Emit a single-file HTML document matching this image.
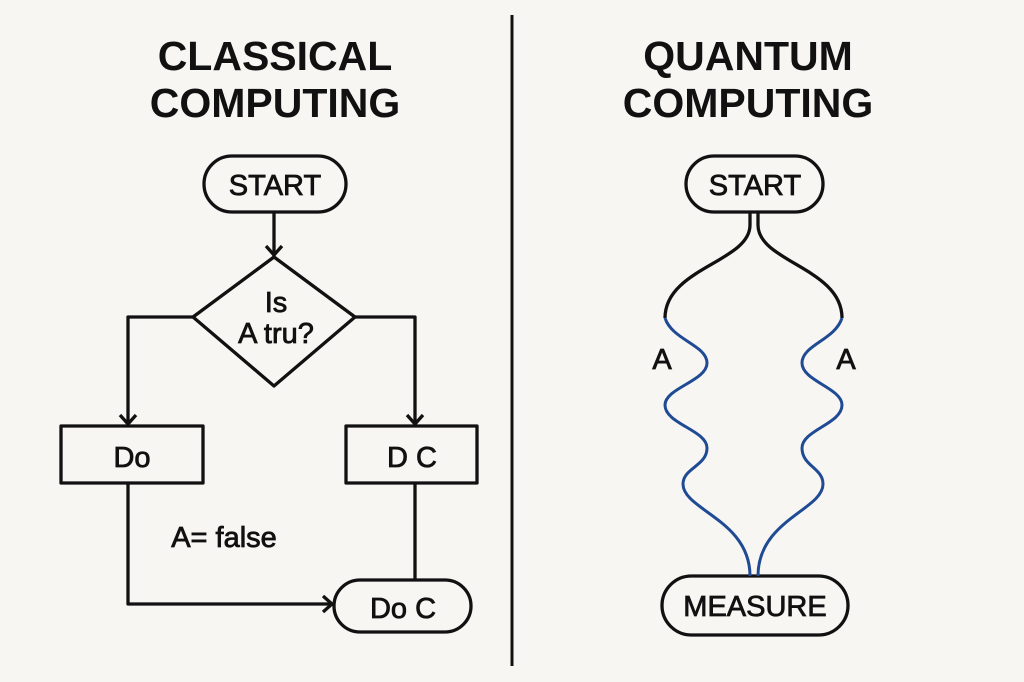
<!DOCTYPE html>
<html><head><meta charset="utf-8"><style>
html,body{margin:0;padding:0;background:#f7f6f3;}
svg{display:block}
text{font-family:"Liberation Sans",Arial,sans-serif;fill:#111}
</style></head><body>
<svg width="1024" height="682" viewBox="0 0 1024 682" xmlns="http://www.w3.org/2000/svg">
<rect width="1024" height="682" fill="#f7f6f3"/>
<line x1="512" y1="15" x2="512" y2="666" stroke="#111" stroke-width="3"/>
<g font-weight="bold" font-size="41" text-anchor="middle">
<text x="275" y="70">CLASSICAL</text>
<text x="275" y="117">COMPUTING</text>
<text x="748" y="70">QUANTUM</text>
<text x="748" y="117">COMPUTING</text>
</g>
<g fill="none" stroke="#111" stroke-width="3.3" stroke-linejoin="round">
<rect x="204" y="156" width="142" height="56" rx="28"/>
<line x1="274" y1="212" x2="274" y2="256"/>
<polyline points="266,246 274,255 282,246"/>
<polygon points="274,257 355,317 274,386 193,317"/>
<polyline points="193,317 128,317 128,424"/>
<polyline points="120,415 128,424 136,415"/>
<polyline points="355,317 415,317 415,424"/>
<polyline points="407,415 415,424 423,415"/>
<rect x="61" y="426" width="142" height="57"/>
<rect x="346" y="426" width="131" height="57"/>
<polyline points="128,483 128,604 332,604"/>
<polyline points="323,596 332,604 323,612"/>
<line x1="415" y1="483" x2="415" y2="580"/>
<rect x="334" y="580" width="137" height="52" rx="26"/>
<rect x="686" y="156" width="137" height="56" rx="28"/>
<rect x="662" y="576" width="186" height="59" rx="29.5"/>
<path d="M750,212 L750,225 C750,262 665,268 665,318"/>
<path d="M758,212 L758,225 C758,262 842,268 842,318"/>
</g>
<g fill="none" stroke="#1f4a94" stroke-width="3">
<path d="M665,318 C672,340 707,345 707,363 C707,381 665,388 665,405 C665,424 707,430 707,448 C707,466 683,468 683,484 C683,510 750,520 750,576"/>
<path d="M842,318 C835,340 802,345 802,363 C802,381 842,388 842,405 C842,424 802,430 802,448 C802,466 823,468 823,484 C823,510 758,520 758,576"/>
</g>
<g font-size="29" text-anchor="middle" stroke="#111" stroke-width="0.8">
<text x="275" y="195">START</text>
<text x="755" y="195">START</text>
<text x="755" y="616">MEASURE</text>
<text x="132" y="467">Do</text>
<text x="412" y="467">D C</text>
<text x="403" y="618">Do C</text>
<text x="276" y="312">Is</text>
<text x="276" y="343">A tru?</text>
<text x="224" y="547">A= false</text>
<text x="662" y="369">A</text>
<text x="846" y="369">A</text>
</g>
</svg>
</body></html>
